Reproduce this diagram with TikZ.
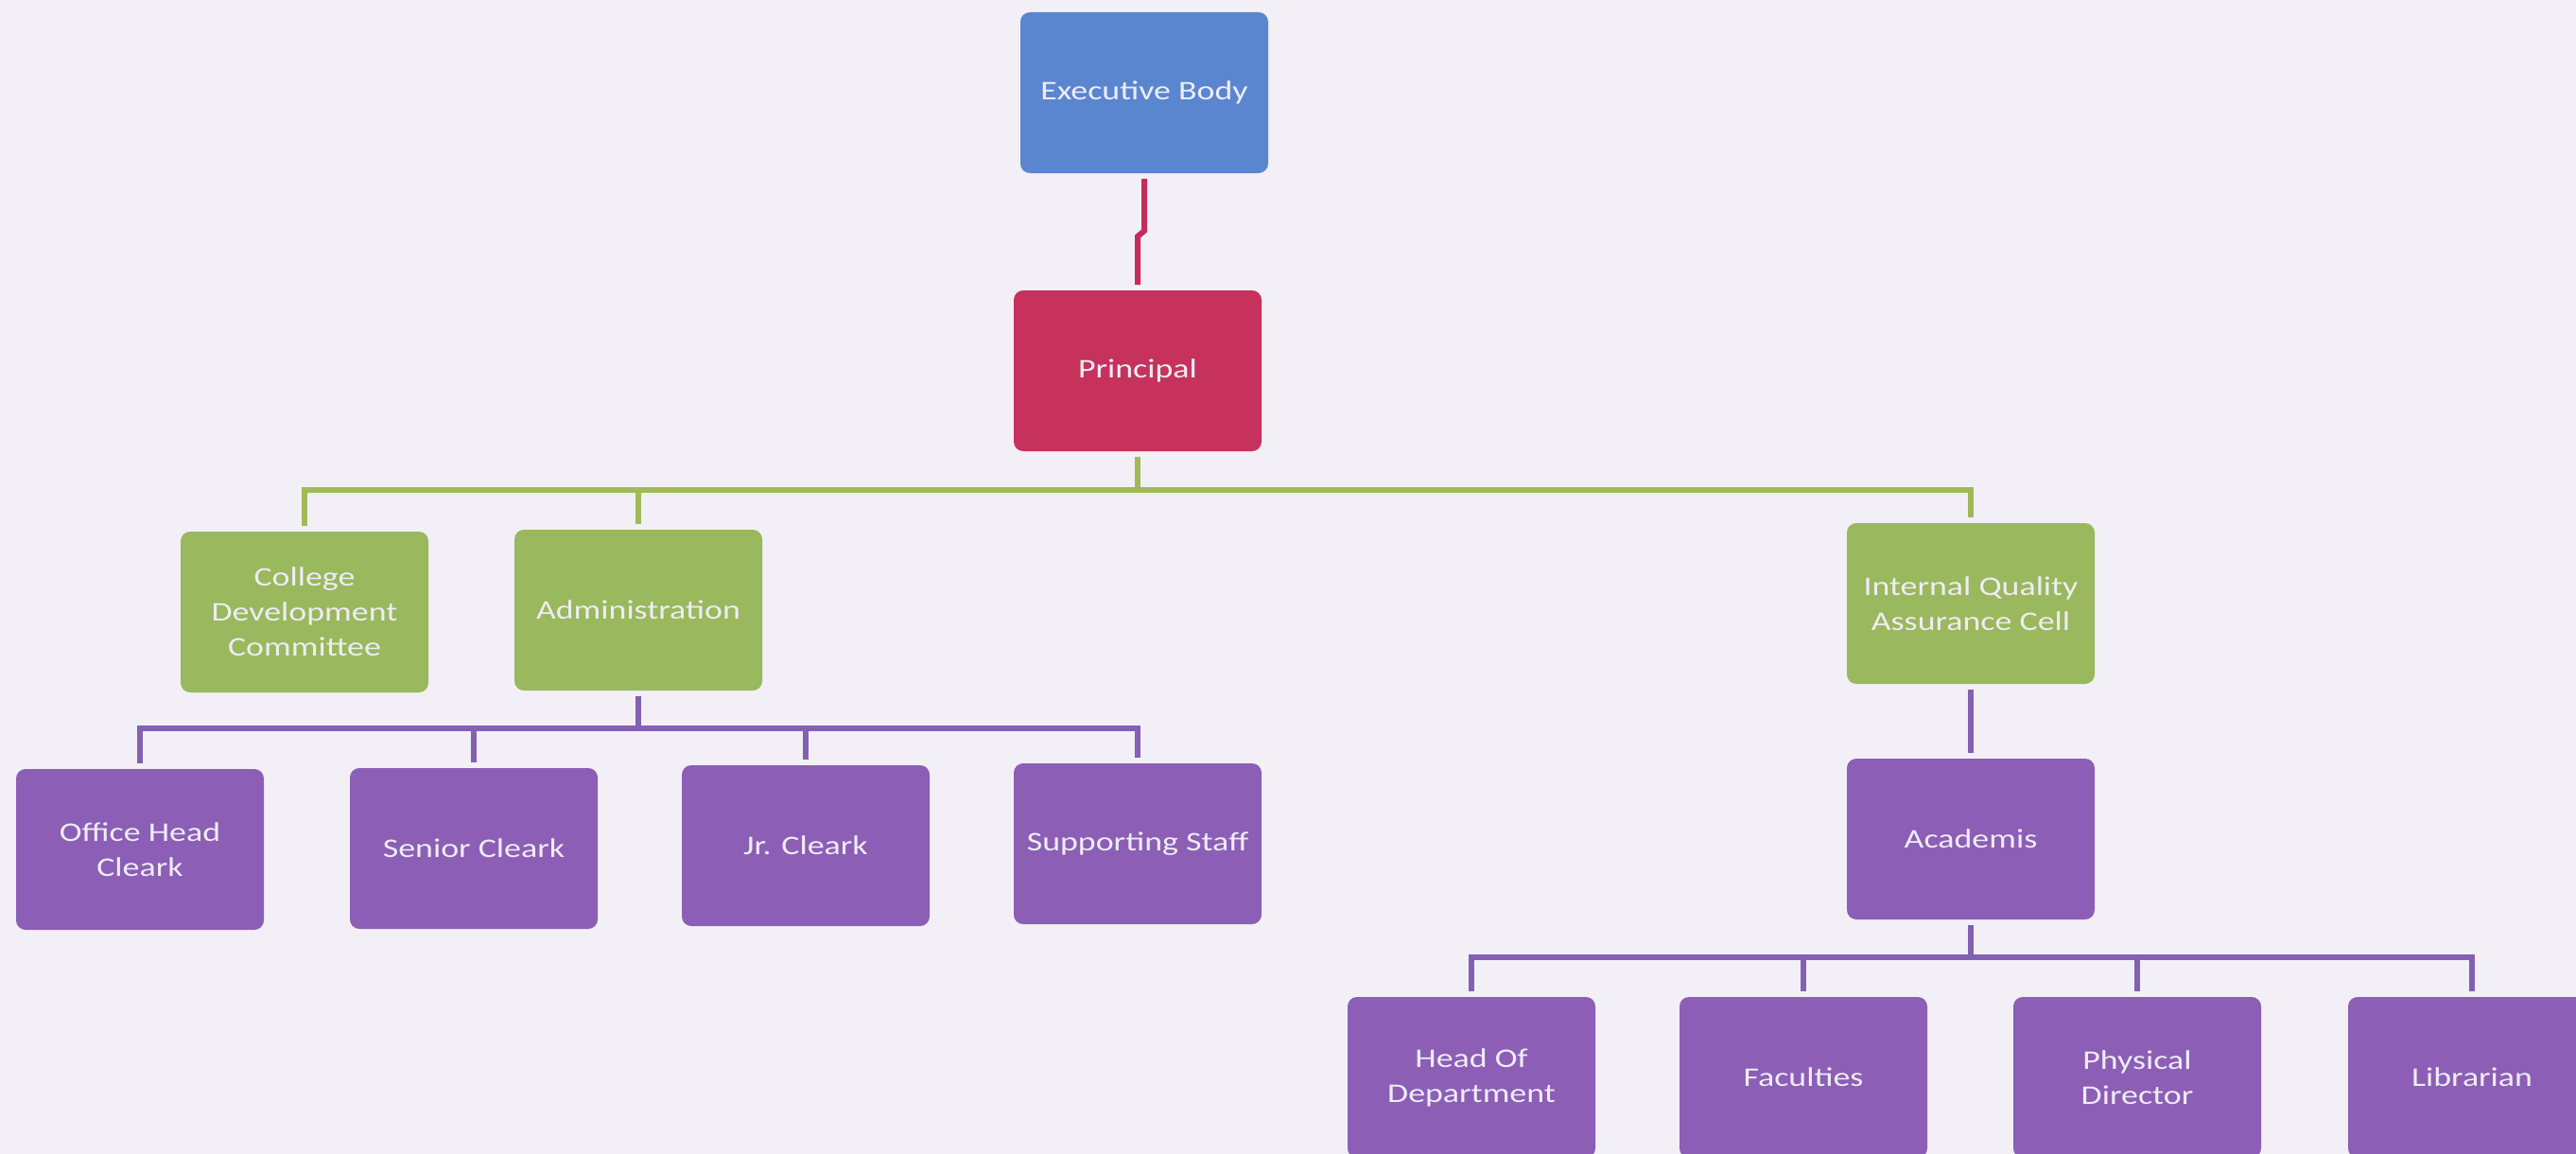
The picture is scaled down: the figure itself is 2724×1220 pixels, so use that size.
\documentclass[tikz,border=0pt]{standalone}
\usepackage{fontspec}
\setmainfont{Carlito}[FakeStretch=1.26]
\definecolor{bg}{RGB}{242,240,246}
\definecolor{cblue}{RGB}{90,134,208}
\definecolor{cred}{RGB}{198,50,92}
\definecolor{cgreen}{RGB}{154,184,94}
\definecolor{cpurple}{RGB}{140,94,182}
\definecolor{lgreen}{RGB}{160,186,88}
\definecolor{lpurple}{RGB}{132,96,178}
\definecolor{lred}{RGB}{196,44,92}
\definecolor{txt}{RGB}{238,236,244}
\begin{document}
\begin{tikzpicture}[x=0.5pt,y=-0.5pt,
  box/.style={rectangle,rounded corners=5pt,minimum width=131pt,minimum height=85pt,
    inner sep=2pt,outer sep=3pt,align=center,text=txt,
    font=\fontsize{14.25pt}{18.5pt}\selectfont},
  bluebox/.style={box,fill=cblue},
  redbox/.style={box,fill=cred},
  greenbox/.style={box,fill=cgreen},
  purplebox/.style={box,fill=cpurple},
  conn/.style={line width=3pt,line join=miter},
  rline/.style={conn,draw=lred},
  gline/.style={conn,draw=lgreen},
  pline/.style={conn,draw=lpurple}]
\path[use as bounding box] (0,0) rectangle (2724,1220);
\clip (0,0) rectangle (2724,1220);
\fill[bg] (0,0) rectangle (2724,1220);

\node[bluebox] (exec) at (1210,98) {Executive Body};
\node[redbox] (principal) at (1203,392) {Principal};
\node[greenbox] (cdc) at (322,647) {College\\Development\\Committee};
\node[greenbox] (admin) at (675,645) {Administration};
\node[greenbox] (iqac) at (2084,638) {Internal Quality\\Assurance Cell};
\node[purplebox] (office) at (148,898) {Office Head\\Cleark};
\node[purplebox] (senior) at (501,897) {Senior Cleark};
\node[purplebox] (jr) at (852,894) {Jr. Cleark};
\node[purplebox] (support) at (1203,892) {Supporting Staff};
\node[purplebox] (academis) at (2084,887) {Academis};
\node[purplebox] (hod) at (1556,1139) {Head Of\\Department};
\node[purplebox] (fac) at (1907,1139) {Faculties};
\node[purplebox] (phys) at (2260,1139) {Physical\\Director};
\node[purplebox] (lib) at (2614,1139) {Librarian};

\coordinate (jog1) at (0,244);
\coordinate (jog2) at (0,250);
\coordinate (gbar) at (0,518);
\coordinate (pbar) at (0,770);
\coordinate (qbar) at (0,1012);

\draw[rline] (exec.south) -- (exec.south |- jog1) -- (principal.north |- jog2) -- (principal.north);

\draw[gline] (principal.south) -- (principal.south |- gbar);
\draw[gline] (cdc.north) -- (cdc.north |- gbar) -- (iqac.north |- gbar) -- (iqac.north);
\draw[gline] (admin.north) -- (admin.north |- gbar);

\draw[pline] (admin.south) -- (admin.south |- pbar);
\draw[pline] (office.north) -- (office.north |- pbar) -- (support.north |- pbar) -- (support.north);
\draw[pline] (senior.north) -- (senior.north |- pbar);
\draw[pline] (jr.north) -- (jr.north |- pbar);

\draw[pline] (iqac.south) -- (academis.north);

\draw[pline] (academis.south) -- (academis.south |- qbar);
\draw[pline] (hod.north) -- (hod.north |- qbar) -- (lib.north |- qbar) -- (lib.north);
\draw[pline] (fac.north) -- (fac.north |- qbar);
\draw[pline] (phys.north) -- (phys.north |- qbar);
\end{tikzpicture}
\end{document}
